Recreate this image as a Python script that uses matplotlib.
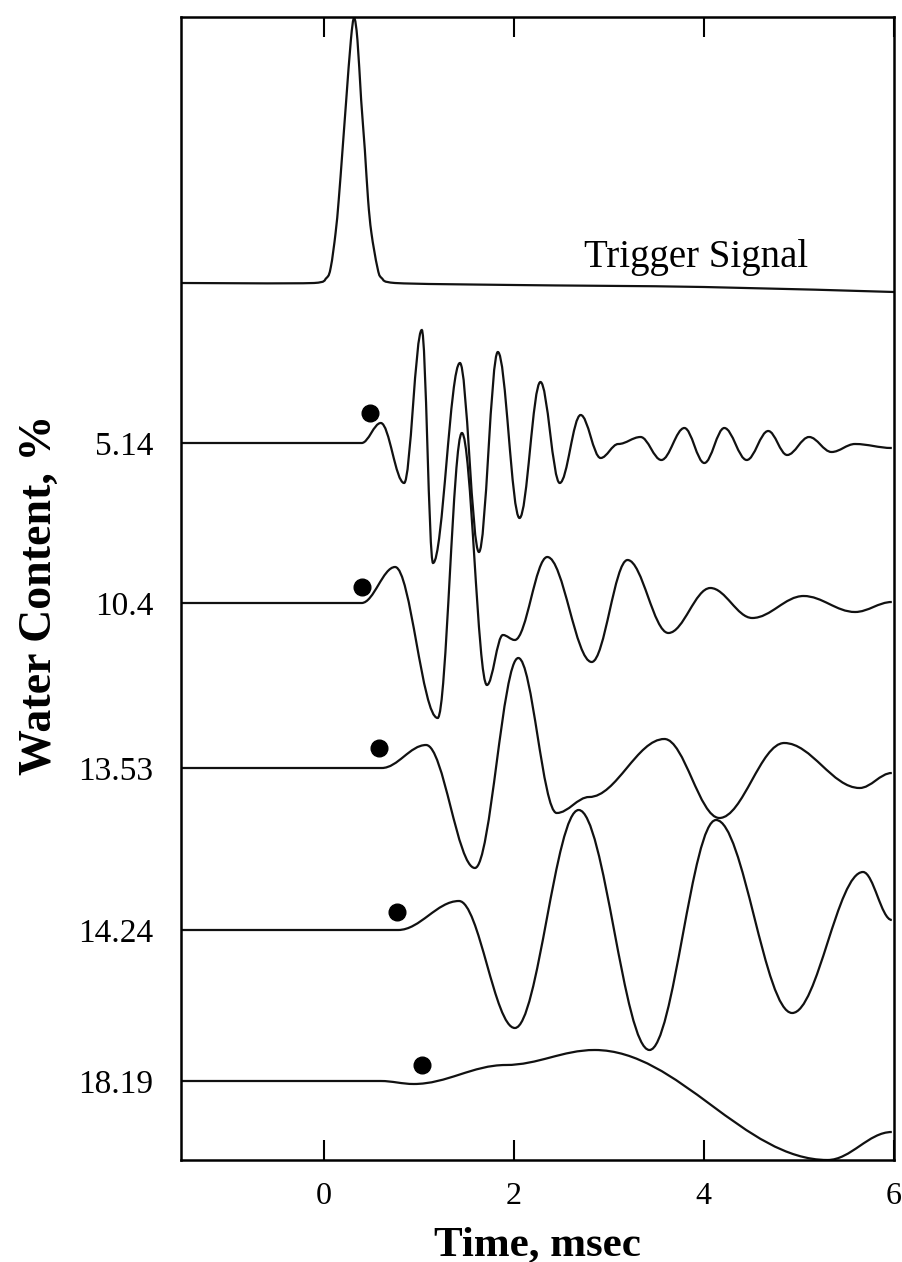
import matplotlib
matplotlib.use("Agg")
import matplotlib.pyplot as plt
from matplotlib.path import Path
from matplotlib.patches import PathPatch

plt.rcParams['font.family'] = ['Liberation Serif', 'DejaVu Serif']

# --- data (time in msec, amplitude in arbitrary units) ---
# trigger pulse
trig_t = [-1.5, -0.1, 0.03, 0.076, 0.126, 0.159, 0.199, 0.238, 0.287, 0.321, 0.356,
          0.395, 0.434, 0.468, 0.503, 0.565, 0.61, 0.75, 2.0, 4.0, 6.0]
trig_a = [0.0, 0.0, 0.5, 1.6, 5.0, 8.3, 13.3, 18.3, 24.3, 26.5, 24.3,
          18.3, 13.3, 8.3, 5.0, 1.6, 0.5, 0.0, -0.2, -0.4, -0.9]
trig_offset = 87.7

# water content labels and trace baselines
labels = ['5.14', '10.4', '13.53', '14.24', '18.19']
offsets = [71.7, 55.7, 39.2, 23.0, 7.9]

# turning points of each waveform (time, amplitude)
t_514 = [-1.5, 0.40, 0.602, 0.847, 1.033, 1.151, 1.434, 1.634, 1.833, 2.061, 2.281,
         2.484, 2.704, 2.914, 3.10, 3.334, 3.553, 3.795, 4.005, 4.215, 4.451,
         4.677, 4.876, 5.107, 5.343, 5.590, 5.977]
a_514 = [0.0, 0.0, 2.0, -4.0, 11.3, -12.0, 8.0, -10.9, 9.1, -7.5, 6.1,
         -4.0, 2.8, -1.5, -0.1, 0.6, -1.7, 1.5, -2.0, 1.5, -1.7,
         1.2, -1.2, 0.6, -0.9, -0.1, -0.5]

t_104 = [-1.5, 0.40, 0.752, 1.200, 1.455, 1.718, 1.886, 2.011, 2.353, 2.820,
         3.197, 3.627, 4.068, 4.509, 5.049, 5.590, 5.977]
a_104 = [0.0, 0.0, 3.6, -11.5, 17.0, -8.2, -3.2, -3.7, 4.6, -5.9,
         4.3, -3.0, 1.5, -1.5, 0.7, -0.9, 0.1]

t_1353 = [-1.5, 0.612, 1.078, 1.592, 2.048, 2.452, 2.794, 3.585, 4.163, 4.845,
          5.638, 5.977]
a_1353 = [0.0, 0.0, 2.3, -10.0, 11.0, -4.5, -2.9, 2.9, -5.0, 2.5,
          -2.0, -0.5]

t_1424 = [-1.5, 0.784, 1.424, 2.012, 2.683, 3.428, 4.128, 4.929, 5.674, 5.977]
a_1424 = [0.0, 0.0, 2.9, -9.8, 12.0, -12.0, 11.0, -8.3, 5.8, 1.0]

t_1819 = [-1.5, 0.60, 0.948, 1.917, 2.851, 5.301, 5.977]
a_1819 = [0.0, 0.0, -0.3, 1.6, 3.1, -7.9, -5.1]

wave_t = [t_514, t_104, t_1353, t_1424, t_1819]
wave_a = [a_514, a_104, a_1353, a_1424, a_1819]

# first-arrival markers (time, height above baseline)
dot_t = [0.487, 0.406, 0.584, 0.773, 1.036]
dot_a = [3.0, 1.6, 2.0, 1.8, 1.6]

xticks = [0, 2, 4, 6]


def smooth_path(ts, ys, k=0.36):
    # cubic bezier between turning points, flat tangent at each one
    verts = [(ts[0], ys[0])]
    codes = [Path.MOVETO]
    for i in range(len(ts) - 1):
        d = (ts[i + 1] - ts[i]) * k
        verts += [(ts[i] + d, ys[i]), (ts[i + 1] - d, ys[i + 1]), (ts[i + 1], ys[i + 1])]
        codes += [Path.CURVE4] * 3
    return Path(verts, codes)


def spline_path(ts, ys):
    # catmull-rom through the read points, handed to matplotlib as bezier
    n = len(ts)
    verts = [(ts[0], ys[0])]
    codes = [Path.MOVETO]
    for i in range(n - 1):
        p0 = (ts[max(i - 1, 0)], ys[max(i - 1, 0)])
        p1 = (ts[i], ys[i])
        p2 = (ts[i + 1], ys[i + 1])
        p3 = (ts[min(i + 2, n - 1)], ys[min(i + 2, n - 1)])
        c1 = (p1[0] + (p2[0] - p0[0]) / 6, p1[1] + (p2[1] - p0[1]) / 6)
        c2 = (p2[0] - (p3[0] - p1[0]) / 6, p2[1] - (p3[1] - p1[1]) / 6)
        # keep the curve from running backwards in time
        c1 = (min(c1[0], p2[0]), c1[1])
        c2 = (max(c2[0], p1[0]), c2[1])
        verts += [c1, c2, p2]
        codes += [Path.CURVE4] * 3
    return Path(verts, codes)


fig = plt.figure(figsize=(9.03, 12.62), dpi=100)
ax = fig.add_axes([181 / 903, 1 - 1160 / 1262, 713 / 903, 1143 / 1262])

line_col = '#111111'
lw = 1.6
ax.add_patch(PathPatch(spline_path(trig_t, [a + trig_offset for a in trig_a]),
                       fill=False, edgecolor=line_col, lw=lw, transform=ax.transData))

for ts, amps, off in zip(wave_t, wave_a, offsets):
    path = smooth_path(ts, [a + off for a in amps])
    ax.add_patch(PathPatch(path, fill=False, edgecolor=line_col, lw=lw,
                           transform=ax.transData))

ax.plot(dot_t, [a + o for a, o in zip(dot_a, offsets)], 'o', color='black',
        markersize=12, linestyle='none')

ax.text(2.74, 89.3, 'Trigger Signal', fontsize=28, va='baseline', ha='left')

ax.set_xlim(-1.5, 6)
ax.set_ylim(0, 114.3)

ax.set_xticks(xticks)
ax.set_xticklabels([str(x) for x in xticks], fontsize=23)
ax.tick_params(axis='x', direction='in', top=True, length=14.4, width=1.5, pad=16)
ax.set_yticks(offsets)
ax.set_yticklabels(labels, fontsize=24)
ax.tick_params(axis='y', length=0, pad=20)

for sp in ax.spines.values():
    sp.set_linewidth(1.8)

ax.set_xlabel('Time, msec', fontsize=31, fontweight='bold', va='baseline')
ax.xaxis.set_label_coords(0.5, -(1255 - 1160) / 1143)
ax.set_ylabel('Water Content, %', fontsize=33, fontweight='bold', va='center')
ax.yaxis.set_label_coords((40 - 181) / 713, (1160 - 595) / 1143)

fig.savefig('out.png', dpi=100)
